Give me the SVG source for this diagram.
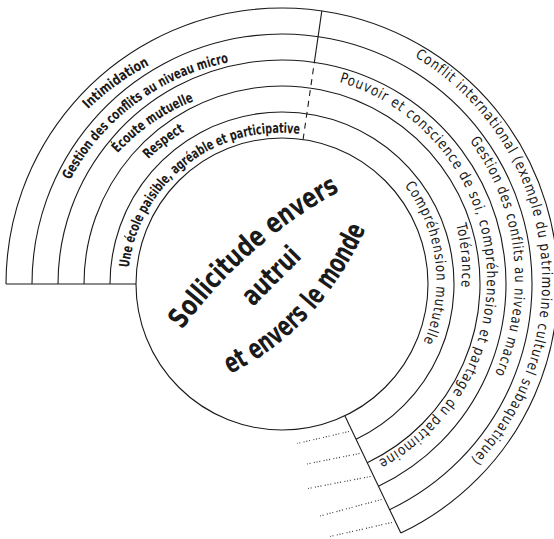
<svg xmlns="http://www.w3.org/2000/svg" width="554" height="539" viewBox="0 0 554 539">
<style>
.ring{fill:none;stroke:#1a1a1a;stroke-width:1.1}
.dash{fill:none;stroke:#1a1a1a;stroke-width:1.1;stroke-dasharray:6 5}
.dot{fill:none;stroke:#333;stroke-width:1.2;stroke-dasharray:1 1.8 1 1.8 1 3.4}
.lb{font-family:"DejaVu Sans Condensed","Liberation Sans Narrow","Liberation Sans",sans-serif;font-weight:bold;font-size:14px;fill:#1a1a1a}
.lr{font-family:"DejaVu Sans Condensed","Liberation Sans Narrow","Liberation Sans",sans-serif;font-weight:normal;font-size:14.5px;letter-spacing:1px;fill:#1a1a1a}
.ctr{font-family:"DejaVu Sans Condensed","Liberation Sans Narrow","Liberation Sans",sans-serif;font-weight:bold;font-size:28px;fill:#1a1a1a}
</style>
<defs>
<path id="p1" d="M88.04,109.36 A258.5,258.5 0 0 1 150.15,64.56"/>
<path id="p2" d="M70.06,180.17 A232,232 0 0 1 229.55,62.11"/>
<path id="p3" d="M117.65,153.27 A206.5,206.5 0 0 1 194.93,100.62"/>
<path id="p4" d="M148.16,159.19 A182,182 0 0 1 185.01,131.18"/>
<path id="p5" d="M128.87,267.64 A152.5,152.5 0 0 1 300.14,134.09"/>
<path id="p6" d="M414.69,56.93 A260.5,260.5 0 0 1 468.84,461.92"/>
<path id="p7" d="M469.69,140.94 A233.5,233.5 0 0 1 494.0,375.74"/>
<path id="p8" d="M339.18,81.93 A205.5,205.5 0 0 1 376.65,461.32"/>
<path id="p9" d="M456.08,224.4 A181.5,181.5 0 0 1 460.93,289.0"/>
<path id="p10" d="M404.37,185.64 A155,155 0 0 1 423.04,343.29"/>
<path id="c1" d="M182,330 Q246,242 342,190"/>
<path id="c2" d="M253,307 L303,257"/>
<path id="c3" d="M230,374 Q320,330 366,228"/>
</defs>
<rect width="554" height="539" fill="#fff"/>
<g id="connectors">
<path class="ring" d="M110,284 A172,172 0 1 1 356.05,439.25"/>
<path class="ring" d="M84,284 A198,198 0 1 1 367.24,462.71"/>
<path class="ring" d="M58,284 A224,224 0 1 1 378.43,486.18"/>
<path class="ring" d="M32,284 A250,250 0 1 1 389.63,509.65"/>
<path class="ring" d="M6,284 A276,276 0 1 1 400.82,533.11"/>
<path class="ring" d="M6,284 H136"/>
<path class="ring" d="M314.34,62.35 L321.84,10.89"/>
<path class="dash" d="M303.08,139.53 L314.34,62.35"/>
<path class="ring" d="M344.85,415.78 L400.82,533.11"/>
<path class="dot" d="M349,431.5 L297,443.5"/>
<path class="dot" d="M359.5,453.5 L307,464"/>
<path class="dot" d="M370.5,476.5 L308,488.5"/>
<path class="dot" d="M381.5,499.5 L320,516"/>
<path class="dot" d="M392,522.5 L330,536.5"/>
</g>
<g id="center">
<circle class="ring" cx="282" cy="284" r="146"/>
<text class="ctr"><textPath href="#c1" textLength="212" lengthAdjust="spacingAndGlyphs">Sollicitude envers</textPath></text>
<text class="ctr"><textPath href="#c2" textLength="70" lengthAdjust="spacingAndGlyphs">autrui</textPath></text>
<text class="ctr"><textPath href="#c3" textLength="203" lengthAdjust="spacingAndGlyphs">et envers le monde</textPath></text>
</g>
<g id="intimidation"><text class="lb"><textPath href="#p1" textLength="76" lengthAdjust="spacingAndGlyphs">Intimidation</textPath></text></g>
<g id="gestion-micro"><text class="lb"><textPath href="#p2" textLength="204" lengthAdjust="spacingAndGlyphs">Gestion des conflits au niveau micro</textPath></text></g>
<g id="ecoute"><text class="lb"><textPath href="#p3" textLength="93" lengthAdjust="spacingAndGlyphs">Écoute mutuelle</textPath></text></g>
<g id="respect"><text class="lb"><textPath href="#p4" textLength="46" lengthAdjust="spacingAndGlyphs">Respect</textPath></text></g>
<g id="ecole"><text class="lb"><textPath href="#p5" textLength="241" lengthAdjust="spacingAndGlyphs">Une école paisible, agréable et participative</textPath></text></g>
<g id="conflit-international"><text class="lr"><textPath href="#p6" textLength="467" lengthAdjust="spacingAndGlyphs">Conflit international (exemple du patrimoine culturel subaquatique)</textPath></text></g>
<g id="gestion-macro"><text class="lr"><textPath href="#p7" textLength="246" lengthAdjust="spacingAndGlyphs">Gestion des conflits au niveau macro</textPath></text></g>
<g id="pouvoir"><text class="lr"><textPath href="#p8" textLength="487" lengthAdjust="spacingAndGlyphs">Pouvoir et conscience de soi, compréhension et partage du patrimoine</textPath></text></g>
<g id="tolerance"><text class="lr"><textPath href="#p9" textLength="64" lengthAdjust="spacingAndGlyphs">Tolérance</textPath></text></g>
<g id="comprehension"><text class="lr"><textPath href="#p10" textLength="166" lengthAdjust="spacingAndGlyphs">Compréhension mutuelle</textPath></text></g>
</svg>
